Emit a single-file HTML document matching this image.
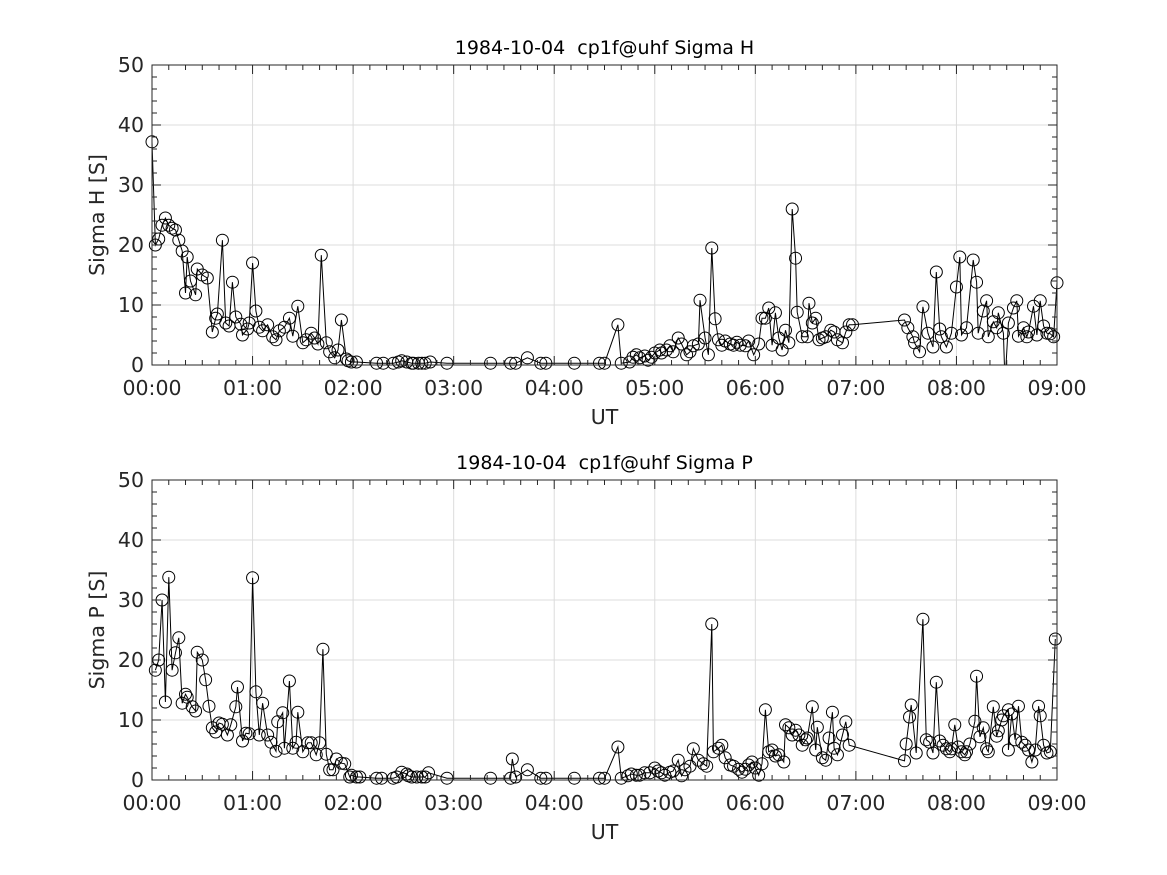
<!DOCTYPE html>
<html><head><meta charset="utf-8"><style>
html,body{margin:0;padding:0;background:#fff;}
svg{display:block;font-family:"DejaVu Sans","Liberation Sans",sans-serif;}
</style></head><body>
<svg id="chart" width="1167" height="875" viewBox="0 0 1167 875" xmlns="http://www.w3.org/2000/svg">
<rect width="1167" height="875" fill="#fff"/>
</svg>
<script>
const xTickLabels = ["00:00","01:00","02:00","03:00","04:00","05:00","06:00","07:00","08:00","09:00"];
const yTickLabels = [0,10,20,30,40,50];
const hTimes = [0,2,4,6,8,10,12,14,16,18,20,21,23,26,27,30,33,36,38,39,42,44,46,48,50,53,54,57,58,60,62,64,66,69,72,74,76,79,82,84,87,90,92,95,97,99,101,104,106,109,111,113,116,117,119,122,134,138,144,147,149,152,155,156,159,161,163,166,176,202,214,217,224,232,235,252,267,270,278,280,285,287,289,291,294,296,298,300,303,304,307,309,311,314,316,319,321,323,326,327,330,332,334,336,338,340,342,345,347,349,351,354,356,359,362,364,366,368,370,372,374,376,378,380,382,384,385,388,391,392,394,396,398,400,402,405,407,409,412,414,416,418,449,451,454,455,458,460,463,466,468,470,471,474,477,480,482,483,486,490,492,493,496,498,499,502,504,505,508,509,511,514,516,517,520,522,523,526,528,530,532,534,536,538,540];
const hValues = [37.2,20,21,23.3,24.5,23.3,22.8,22.5,20.8,19,12,18,14,11.7,16,15,14.5,5.5,7.8,8.5,20.8,7,6.5,13.8,8,6.8,5,6,7,17,9,6.3,5.7,6.7,4.7,4.2,5.7,6.3,7.8,4.8,9.8,3.7,4.2,5.3,4.5,3.5,18.3,3.7,2.2,1.2,2.5,7.5,1,0.7,0.5,0.5,0.3,0.3,0.3,0.5,0.7,0.5,0.3,0.3,0.3,0.3,0.3,0.5,0.3,0.3,0.3,0.3,1.2,0.3,0.3,0.3,0.3,0.3,6.7,0.3,0.5,1.3,1.7,1.2,1.5,0.8,1.3,2,2.5,2,2.5,3.2,2.2,4.5,3.5,1.7,2.2,3.2,3.5,10.8,4.5,1.7,19.5,7.7,4.2,3.3,4,3.5,3.3,3.8,3.3,3.2,4,1.7,3.5,7.8,7.8,9.5,3.3,8.7,4.5,2.5,5.8,3.7,26,17.8,8.8,4.7,4.7,10.3,7,7.8,4.2,4.5,4.7,5.8,5.5,4.2,3.7,5.5,6.7,6.7,7.5,6.2,4.7,3.7,2.2,9.7,5.3,3,15.5,6,4.7,3,5.3,13,18,5,6.2,17.5,13.8,5.3,9,10.7,4.7,7.2,6.2,8.7,5.3,-3,7,9.5,10.7,4.8,6.2,4.7,5.5,9.8,5,10.7,6.5,5.3,5.2,4.7,13.7];
const pTimes = [2,4,6,8,10,12,14,16,18,20,21,24,26,27,30,32,34,36,38,40,42,45,47,50,51,54,56,58,60,62,64,66,69,71,74,75,78,79,82,84,86,87,90,93,95,98,100,102,104,106,108,110,113,115,118,119,122,124,134,137,144,146,149,152,153,155,158,161,163,165,176,202,214,215,217,224,232,235,252,267,270,278,280,284,286,289,291,294,297,300,302,304,306,309,311,314,316,318,321,323,326,329,331,334,335,338,340,342,345,347,350,352,354,356,358,360,362,364,366,368,370,372,374,377,378,380,382,384,386,388,390,391,394,396,397,400,402,404,406,407,409,412,414,416,449,450,452,453,456,460,462,464,466,468,470,472,474,476,477,479,481,483,485,486,488,491,492,494,496,498,499,502,504,505,507,508,511,511,513,515,517,519,521,523,525,527,529,530,532,534,536,539];
const pValues = [18.3,20,30,13,33.8,18.3,21.2,23.7,12.8,14.3,13.8,12.2,11.5,21.3,20,16.7,12.3,8.7,8,9.5,9.3,7.5,9.2,12.2,15.5,6.5,7.8,7.7,33.7,14.7,7.5,12.8,7.5,6.3,4.8,9.7,11.2,5.3,16.5,5.3,6.3,11.3,4.7,6.2,6.2,4.2,6.2,21.8,4.3,1.7,1.7,3.5,2.8,2.7,0.5,0.8,0.5,0.5,0.3,0.3,0.3,0.5,1.3,1,0.7,0.5,0.5,0.5,0.5,1.2,0.3,0.3,0.3,3.5,0.5,1.7,0.3,0.3,0.3,0.3,0.3,5.5,0.3,0.7,1,0.8,0.8,1.2,1.2,2,1.5,1.2,0.8,1.3,1.5,3.3,0.7,1.7,2.3,5.2,3.3,2.7,2.3,26,4.7,5.3,5.8,3.7,2.5,2.3,1.8,1.3,1.8,2.5,3,2,0.8,2.7,11.7,4.7,5,4,4.2,3,9.2,8.7,7.5,8.3,7.5,5.8,6.7,7,12.2,5,8.8,3.7,3.3,7,11.3,5.3,4.2,7.5,9.7,5.8,3.2,6,10.5,12.5,4.5,26.8,6.7,6.3,4.5,16.3,6.5,5.8,5.2,4.7,5.2,9.2,5.5,4.7,4.2,4.7,6,9.8,17.3,7.2,8.7,5.2,4.7,12.2,7.3,8.2,10,10.7,11.7,5,11,6.7,12.3,6.3,5.8,5,3,5,12.3,10.7,5.8,4.5,4.7,23.5];

const NS = "http://www.w3.org/2000/svg";
const svg = document.getElementById('chart');
function mk(tag, attrs, parent){
  const e = document.createElementNS(NS, tag);
  for (const k in attrs) e.setAttribute(k, attrs[k]);
  (parent||svg).appendChild(e);
  return e;
}
const X0 = 152, X1 = 1057;
function xScale(min){ return X0 + (X1 - X0) * min / 540; }

function drawPanel(top, title, ylabel, times, values, key){
  const bottom = top + 300;
  const yScale = v => bottom - v * 6;
  const g = mk('g', {});
  
  
  for (let i = 0; i <= 9; i++){
    const x = xScale(i*60);
    const gl = mk('line', {x1:x, x2:x, y1:top, y2:bottom, stroke:'#dcdcdc', 'stroke-width':1}, g);
    
    
  }
  yTickLabels.forEach(v => {
    const y = yScale(v);
    const gl = mk('line', {x1:X0, x2:X1, y1:y, y2:y, stroke:'#dcdcdc', 'stroke-width':1}, g);
    
    
  });
  const clipId = 'clip-' + key;
  const cp = mk('clipPath', {id: clipId}, g);
  mk('rect', {x:X0, y:top, width:X1-X0, height:300}, cp);
  const pts = times.map((t,i) => xScale(t).toFixed(1) + ',' + yScale(values[i]).toFixed(1)).join(' ');
  const pl = mk('polyline', {points:pts, fill:'none', stroke:'#000', 'stroke-width':1, 'clip-path':'url(#'+clipId+')'}, g);
  
  
  times.forEach((t,i) => {
    if (values[i] < 0) return;
    const c = mk('circle', {cx:xScale(t), cy:yScale(values[i]), r:6, fill:'none', stroke:'#000', 'stroke-width':1}, g);
    
    
  });
  const box = mk('rect', {x:X0, y:top, width:X1-X0, height:300, fill:'none', stroke:'#262626', 'stroke-width':1}, g);
  
  
  for (let m = 0; m <= 540; m += 10){
    const x = xScale(m);
    const len = (m % 60 === 0) ? 9 : 5;
    mk('line', {x1:x, x2:x, y1:bottom, y2:bottom-len, stroke:'#262626'}, g);
    mk('line', {x1:x, x2:x, y1:top, y2:top+len, stroke:'#262626'}, g);
  }
  for (let v = 0; v <= 50; v += 2){
    const y = yScale(v);
    const len = (v % 10 === 0) ? 9 : 5;
    mk('line', {x1:X0, x2:X0+len, y1:y, y2:y, stroke:'#262626'}, g);
    mk('line', {x1:X1, x2:X1-len, y1:y, y2:y, stroke:'#262626'}, g);
  }
  xTickLabels.forEach((lab,i) => {
    const t = mk('text', {x:xScale(i*60), y:bottom+30, 'text-anchor':'middle', 'font-size':20.5, fill:'#262626'}, g);
    t.textContent = lab;
    
    
  });
  yTickLabels.forEach(v => {
    const t = mk('text', {x:X0-8, y:yScale(v)+7, 'text-anchor':'end', 'font-size':20.5, fill:'#262626'}, g);
    t.textContent = v;
    
    
  });
  const tt = mk('text', {x:(X0+X1)/2, y:top-11, 'text-anchor':'middle', 'font-size':19, fill:'#000', 'xml:space':'preserve', style:'white-space:pre'}, g);
  tt.textContent = title;
  
  
  const xl = mk('text', {x:(X0+X1)/2, y:bottom+59, 'text-anchor':'middle', 'font-size':20.5, fill:'#262626'}, g);
  xl.textContent = 'UT';
  
  
  const yl = mk('text', {x:0, y:0, 'text-anchor':'middle', 'font-size':20.5, fill:'#262626', transform:'translate(104,'+(top+150)+') rotate(-90)'}, g);
  yl.textContent = ylabel;
  
  
}
drawPanel(65, '1984-10-04  cp1f@uhf Sigma H', 'Sigma H [S]', hTimes, hValues, 'sigma-h');
drawPanel(480, '1984-10-04  cp1f@uhf Sigma P', 'Sigma P [S]', pTimes, pValues, 'sigma-p');
</script>
</body></html>
